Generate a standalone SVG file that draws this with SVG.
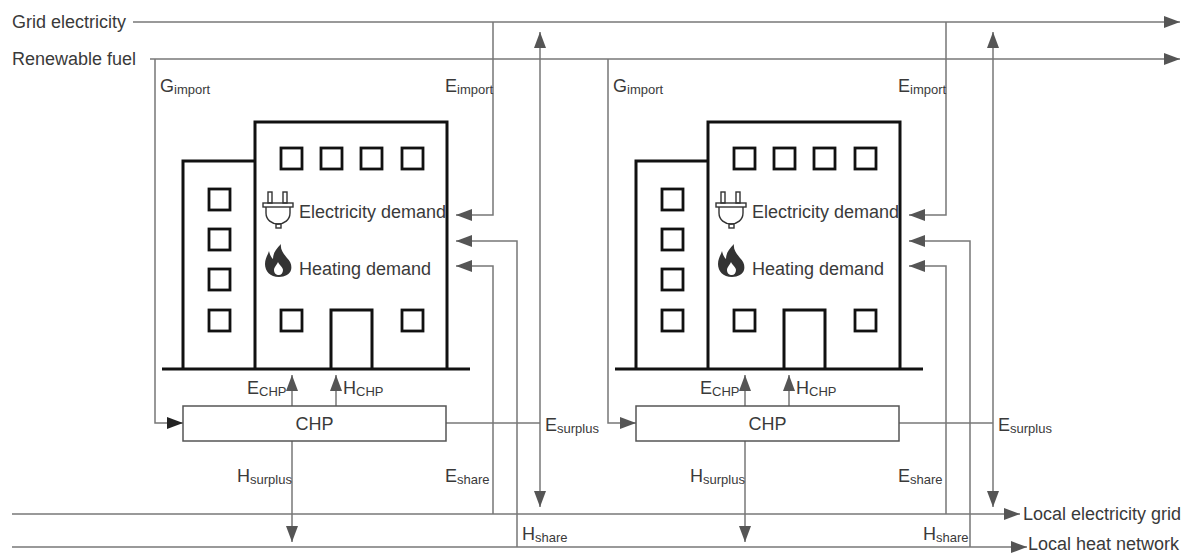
<svg xmlns="http://www.w3.org/2000/svg" width="1189" height="554" viewBox="0 0 1189 554">
  <defs>
    <style>
      .t { font-family: "Liberation Sans", Arial, sans-serif; font-size: 18px; fill: #3a3a3a; }
      .s { font-size: 13px; }
      .ln { fill: none; stroke: #777; stroke-width: 1.5; }
      .bld { fill: none; stroke: #111; stroke-width: 3; }
      .win { fill: none; stroke: #111; stroke-width: 2.8; }
      .box { fill: #fff; stroke: #555; stroke-width: 1.5; }
      .icon { fill: none; stroke: #333; stroke-width: 1.4; }
    </style>
    <marker id="ah" markerUnits="userSpaceOnUse" markerWidth="16" markerHeight="12" refX="16" refY="6" orient="auto-start-reverse">
      <path d="M0,0 L16,6 L0,12 Z" fill="#555"/>
    </marker>
    <marker id="ahk" markerUnits="userSpaceOnUse" markerWidth="16" markerHeight="12" refX="16" refY="6" orient="auto">
      <path d="M0,0 L16,6 L0,12 Z" fill="#222"/>
    </marker>
    <!-- building shape, shared by both sites -->
    <g id="building">
      <path class="bld" d="M183,369 V161 H255"/>
      <path class="bld" d="M255,369 V122 H447 V369"/>
      <path class="bld" d="M162,369 H470"/>
      <path class="bld" d="M331,369 V310 H372 V369"/>
      <rect class="win" x="281" y="148" width="21" height="21"/>
      <rect class="win" x="321" y="148" width="21" height="21"/>
      <rect class="win" x="361" y="148" width="21" height="21"/>
      <rect class="win" x="402" y="148" width="21" height="21"/>
      <rect class="win" x="209" y="189" width="21" height="21"/>
      <rect class="win" x="209" y="229" width="21" height="21"/>
      <rect class="win" x="209" y="269" width="21" height="21"/>
      <rect class="win" x="209" y="310" width="21" height="21"/>
      <rect class="win" x="281" y="310" width="21" height="21"/>
      <rect class="win" x="402" y="310" width="21" height="21"/>
      <!-- plug icon -->
      <rect class="icon" x="268" y="192" width="4" height="11"/>
      <rect class="icon" x="283" y="192" width="4" height="11"/>
      <rect class="icon" x="263" y="203" width="30" height="4"/>
      <path class="icon" d="M266,207 V213 C266,220 272,224 278,224 C284,224 290,220 290,213 V207"/>
      <rect class="icon" x="276" y="224" width="5" height="4"/>
      <!-- flame icon -->
      <path fill="#333" fill-rule="evenodd" d="M279,277 C270,277 265,271 265,264 C265,258 268,255 269,251 C270,255 271,257 273,259 C273,253 276,249 281,244 C280,250 284,254 287,258 C291,262 292,266 291,270 C290,274 285,277 279,277 Z M279,275 C276,275 274,273 274,270 C274,267 277,265 278,262 C279,265 283,267 283,270 C283,273 281,275 279,275 Z"/>
      <text class="t" x="299" y="218">Electricity demand</text>
      <text class="t" x="299" y="275">Heating demand</text>
    </g>
  </defs>

  <!-- supply and network lines -->
  <g id="supply-labels">
    <text class="t" x="12" y="28">Grid electricity</text>
    <text class="t" x="12" y="65">Renewable fuel</text>
    <text class="t" x="1023" y="520">Local electricity grid</text>
    <text class="t" x="1028" y="550">Local heat network</text>
  </g>

  <g id="connectors">
    <path class="ln" d="M133,22 H1180" marker-end="url(#ah)"/>
    <path class="ln" d="M150,59 H1180" marker-end="url(#ah)"/>
    <path class="ln" d="M12,514 H1020" marker-end="url(#ah)"/>
    <path class="ln" d="M12,547 H1027" marker-end="url(#ah)"/>

    <!-- site 1 -->
    <path class="ln" d="M155,59 V423 H183" marker-end="url(#ahk)"/>
    <path class="ln" d="M493,22 V215 H456" marker-end="url(#ah)"/>
    <path class="ln" d="M540,32 V507" marker-start="url(#ah)" marker-end="url(#ah)"/>
    <path class="ln" d="M446,423 H540"/>
    <path class="ln" d="M292,406 V375" marker-end="url(#ah)"/>
    <path class="ln" d="M336,406 V375" marker-end="url(#ah)"/>
    <path class="ln" d="M292,441 V542" marker-end="url(#ah)"/>
    <path class="ln" d="M517,547 V241 H456" marker-end="url(#ah)"/>
    <path class="ln" d="M493,514 V266 H456" marker-end="url(#ah)"/>

    <!-- site 2 -->
    <path class="ln" d="M608,59 V423 H636" marker-end="url(#ah)"/>
    <path class="ln" d="M946,22 V215 H909" marker-end="url(#ah)"/>
    <path class="ln" d="M993,32 V507" marker-start="url(#ah)" marker-end="url(#ah)"/>
    <path class="ln" d="M899,423 H993"/>
    <path class="ln" d="M745,406 V375" marker-end="url(#ah)"/>
    <path class="ln" d="M789,406 V375" marker-end="url(#ah)"/>
    <path class="ln" d="M745,441 V542" marker-end="url(#ah)"/>
    <path class="ln" d="M970,547 V241 H909" marker-end="url(#ah)"/>
    <path class="ln" d="M946,514 V266 H909" marker-end="url(#ah)"/>
  </g>

  <!-- site 1 -->
  <g id="site1-building">
    <use href="#building"/>
  </g>
  <g id="site1-chp">
    <rect class="box" x="183" y="406" width="263" height="35"/>
    <text class="t" x="314.5" y="430" text-anchor="middle">CHP</text>
  </g>
  <g id="site1-labels">
    <text class="t" x="160" y="92">G<tspan class="s" dy="2">import</tspan></text>
    <text class="t" x="445" y="92">E<tspan class="s" dy="2">import</tspan></text>
    <text class="t" x="247" y="394">E<tspan class="s" dy="2">CHP</tspan></text>
    <text class="t" x="343" y="394">H<tspan class="s" dy="2">CHP</tspan></text>
    <text class="t" x="545" y="431">E<tspan class="s" dy="2">surplus</tspan></text>
    <text class="t" x="237" y="482">H<tspan class="s" dy="2">surplus</tspan></text>
    <text class="t" x="445" y="482">E<tspan class="s" dy="2">share</tspan></text>
    <text class="t" x="522" y="540">H<tspan class="s" dy="2">share</tspan></text>
  </g>

  <!-- site 2 -->
  <g id="site2-building">
    <use href="#building" transform="translate(453,0)"/>
  </g>
  <g id="site2-chp">
    <rect class="box" x="636" y="406" width="263" height="35"/>
    <text class="t" x="767.5" y="430" text-anchor="middle">CHP</text>
  </g>
  <g id="site2-labels">
    <text class="t" x="613" y="92">G<tspan class="s" dy="2">import</tspan></text>
    <text class="t" x="898" y="92">E<tspan class="s" dy="2">import</tspan></text>
    <text class="t" x="700" y="394">E<tspan class="s" dy="2">CHP</tspan></text>
    <text class="t" x="796" y="394">H<tspan class="s" dy="2">CHP</tspan></text>
    <text class="t" x="998" y="431">E<tspan class="s" dy="2">surplus</tspan></text>
    <text class="t" x="690" y="482">H<tspan class="s" dy="2">surplus</tspan></text>
    <text class="t" x="898" y="482">E<tspan class="s" dy="2">share</tspan></text>
    <text class="t" x="923" y="540">H<tspan class="s" dy="2">share</tspan></text>
  </g>
</svg>
